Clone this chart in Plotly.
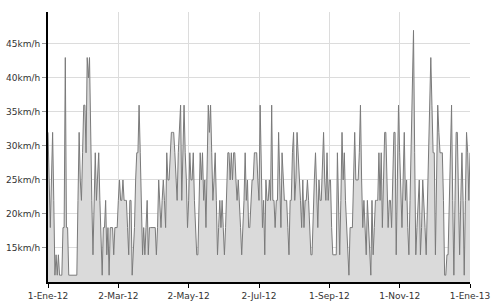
import plotly.graph_objects as go
import pandas as pd

start_date = "2012-01-01"
speed_kmh = [
    32, 25, 18, 25, 32, 22, 11, 14, 11, 14, 11, 11, 11, 18, 18, 43, 18, 18, 11, 11,
    11, 11, 11, 11, 11, 11, 22, 32, 25, 22, 29, 36, 36, 29, 43, 40, 43, 29, 22, 14,
    22, 29, 22, 25, 29, 22, 14, 11, 18, 18, 22, 14, 18, 11, 18, 18, 18, 14, 18, 18,
    18, 22, 25, 22, 22, 25, 22, 22, 22, 18, 14, 22, 22, 11, 14, 18, 25, 29, 29, 36,
    29, 22, 14, 18, 14, 18, 22, 14, 18, 18, 18, 18, 18, 18, 14, 18, 25, 22, 18, 22,
    25, 22, 18, 29, 25, 25, 29, 32, 32, 32, 29, 25, 22, 29, 32, 36, 22, 29, 36, 29,
    25, 18, 22, 29, 25, 25, 29, 22, 18, 14, 14, 22, 29, 25, 29, 22, 25, 18, 29, 36,
    32, 36, 29, 22, 25, 29, 22, 14, 18, 22, 18, 22, 18, 14, 18, 25, 29, 29, 25, 29,
    25, 29, 29, 25, 22, 25, 22, 18, 14, 18, 22, 29, 22, 25, 18, 18, 22, 25, 25, 29,
    29, 29, 25, 22, 36, 29, 18, 22, 14, 25, 22, 22, 25, 22, 36, 22, 22, 18, 22, 22,
    32, 25, 18, 29, 25, 22, 22, 22, 18, 14, 22, 22, 29, 32, 22, 25, 32, 29, 25, 22,
    18, 25, 18, 22, 22, 25, 22, 18, 14, 14, 22, 25, 29, 22, 18, 25, 22, 22, 29, 32,
    25, 22, 29, 22, 25, 25, 18, 14, 14, 14, 14, 29, 22, 14, 22, 32, 25, 29, 22, 18,
    14, 11, 18, 18, 18, 25, 32, 25, 25, 25, 29, 36, 25, 18, 22, 18, 14, 22, 18, 14,
    11, 22, 14, 18, 22, 22, 22, 29, 22, 29, 18, 25, 32, 32, 25, 18, 22, 22, 18, 25,
    32, 32, 14, 25, 36, 29, 22, 18, 25, 32, 22, 25, 18, 14, 22, 32, 40, 47, 29, 14,
    18, 22, 25, 14, 18, 25, 22, 18, 14, 22, 29, 36, 43, 36, 29, 29, 14, 25, 36, 32,
    29, 29, 29, 22, 11, 11, 14, 14, 22, 29, 36, 22, 11, 22, 32, 32, 22, 14, 22, 29,
    22, 11, 22, 32, 29, 22, 29,
]
dates = pd.date_range(start_date, periods=len(speed_kmh), freq="D")

x_tick_dates = ["2012-01-01", "2012-03-02", "2012-05-02", "2012-07-02",
                "2012-09-01", "2012-11-01", "2013-01-01"]
x_tick_labels = ["1-Ene-12", "2-Mar-12", "2-May-12", "2-Jul-12",
                 "1-Sep-12", "1-Nov-12", "1-Ene-13"]
y_tick_vals = [15, 20, 25, 30, 35, 40, 45]
y_tick_labels = ["15km/h", "20km/h", "25km/h", "30km/h", "35km/h", "40km/h", "45km/h"]

fig = go.Figure()
fig.add_trace(go.Scatter(
    x=dates, y=speed_kmh, mode="lines",
    line=dict(color="#7a7a7a", width=1),
    fill="tozeroy", fillcolor="#dadada",
    hoverinfo="skip",
))

fig.update_layout(
    width=500, height=306,
    margin=dict(l=48, r=30, t=12, b=24),
    paper_bgcolor="white", plot_bgcolor="white",
    showlegend=False,
    font=dict(family="DejaVu Sans, Verdana, sans-serif", size=9, color="#333"),
)
fig.update_xaxes(
    range=[x_tick_dates[0], x_tick_dates[-1]],
    tickvals=x_tick_dates, ticktext=x_tick_labels,
    showgrid=True, gridcolor="#dcdcdc", gridwidth=1,
    showline=True, linecolor="black", linewidth=2,
    ticks="outside", ticklen=4, tickcolor="black",
    zeroline=False, automargin=False,
)
fig.update_yaxes(
    range=[10, 49.7],
    tickvals=y_tick_vals, ticktext=y_tick_labels,
    showgrid=True, gridcolor="#dcdcdc", gridwidth=1,
    showline=True, linecolor="black", linewidth=2,
    ticks="outside", ticklen=4, tickcolor="#999",
    zeroline=False, automargin=False,
)

fig.write_html("out.html")
